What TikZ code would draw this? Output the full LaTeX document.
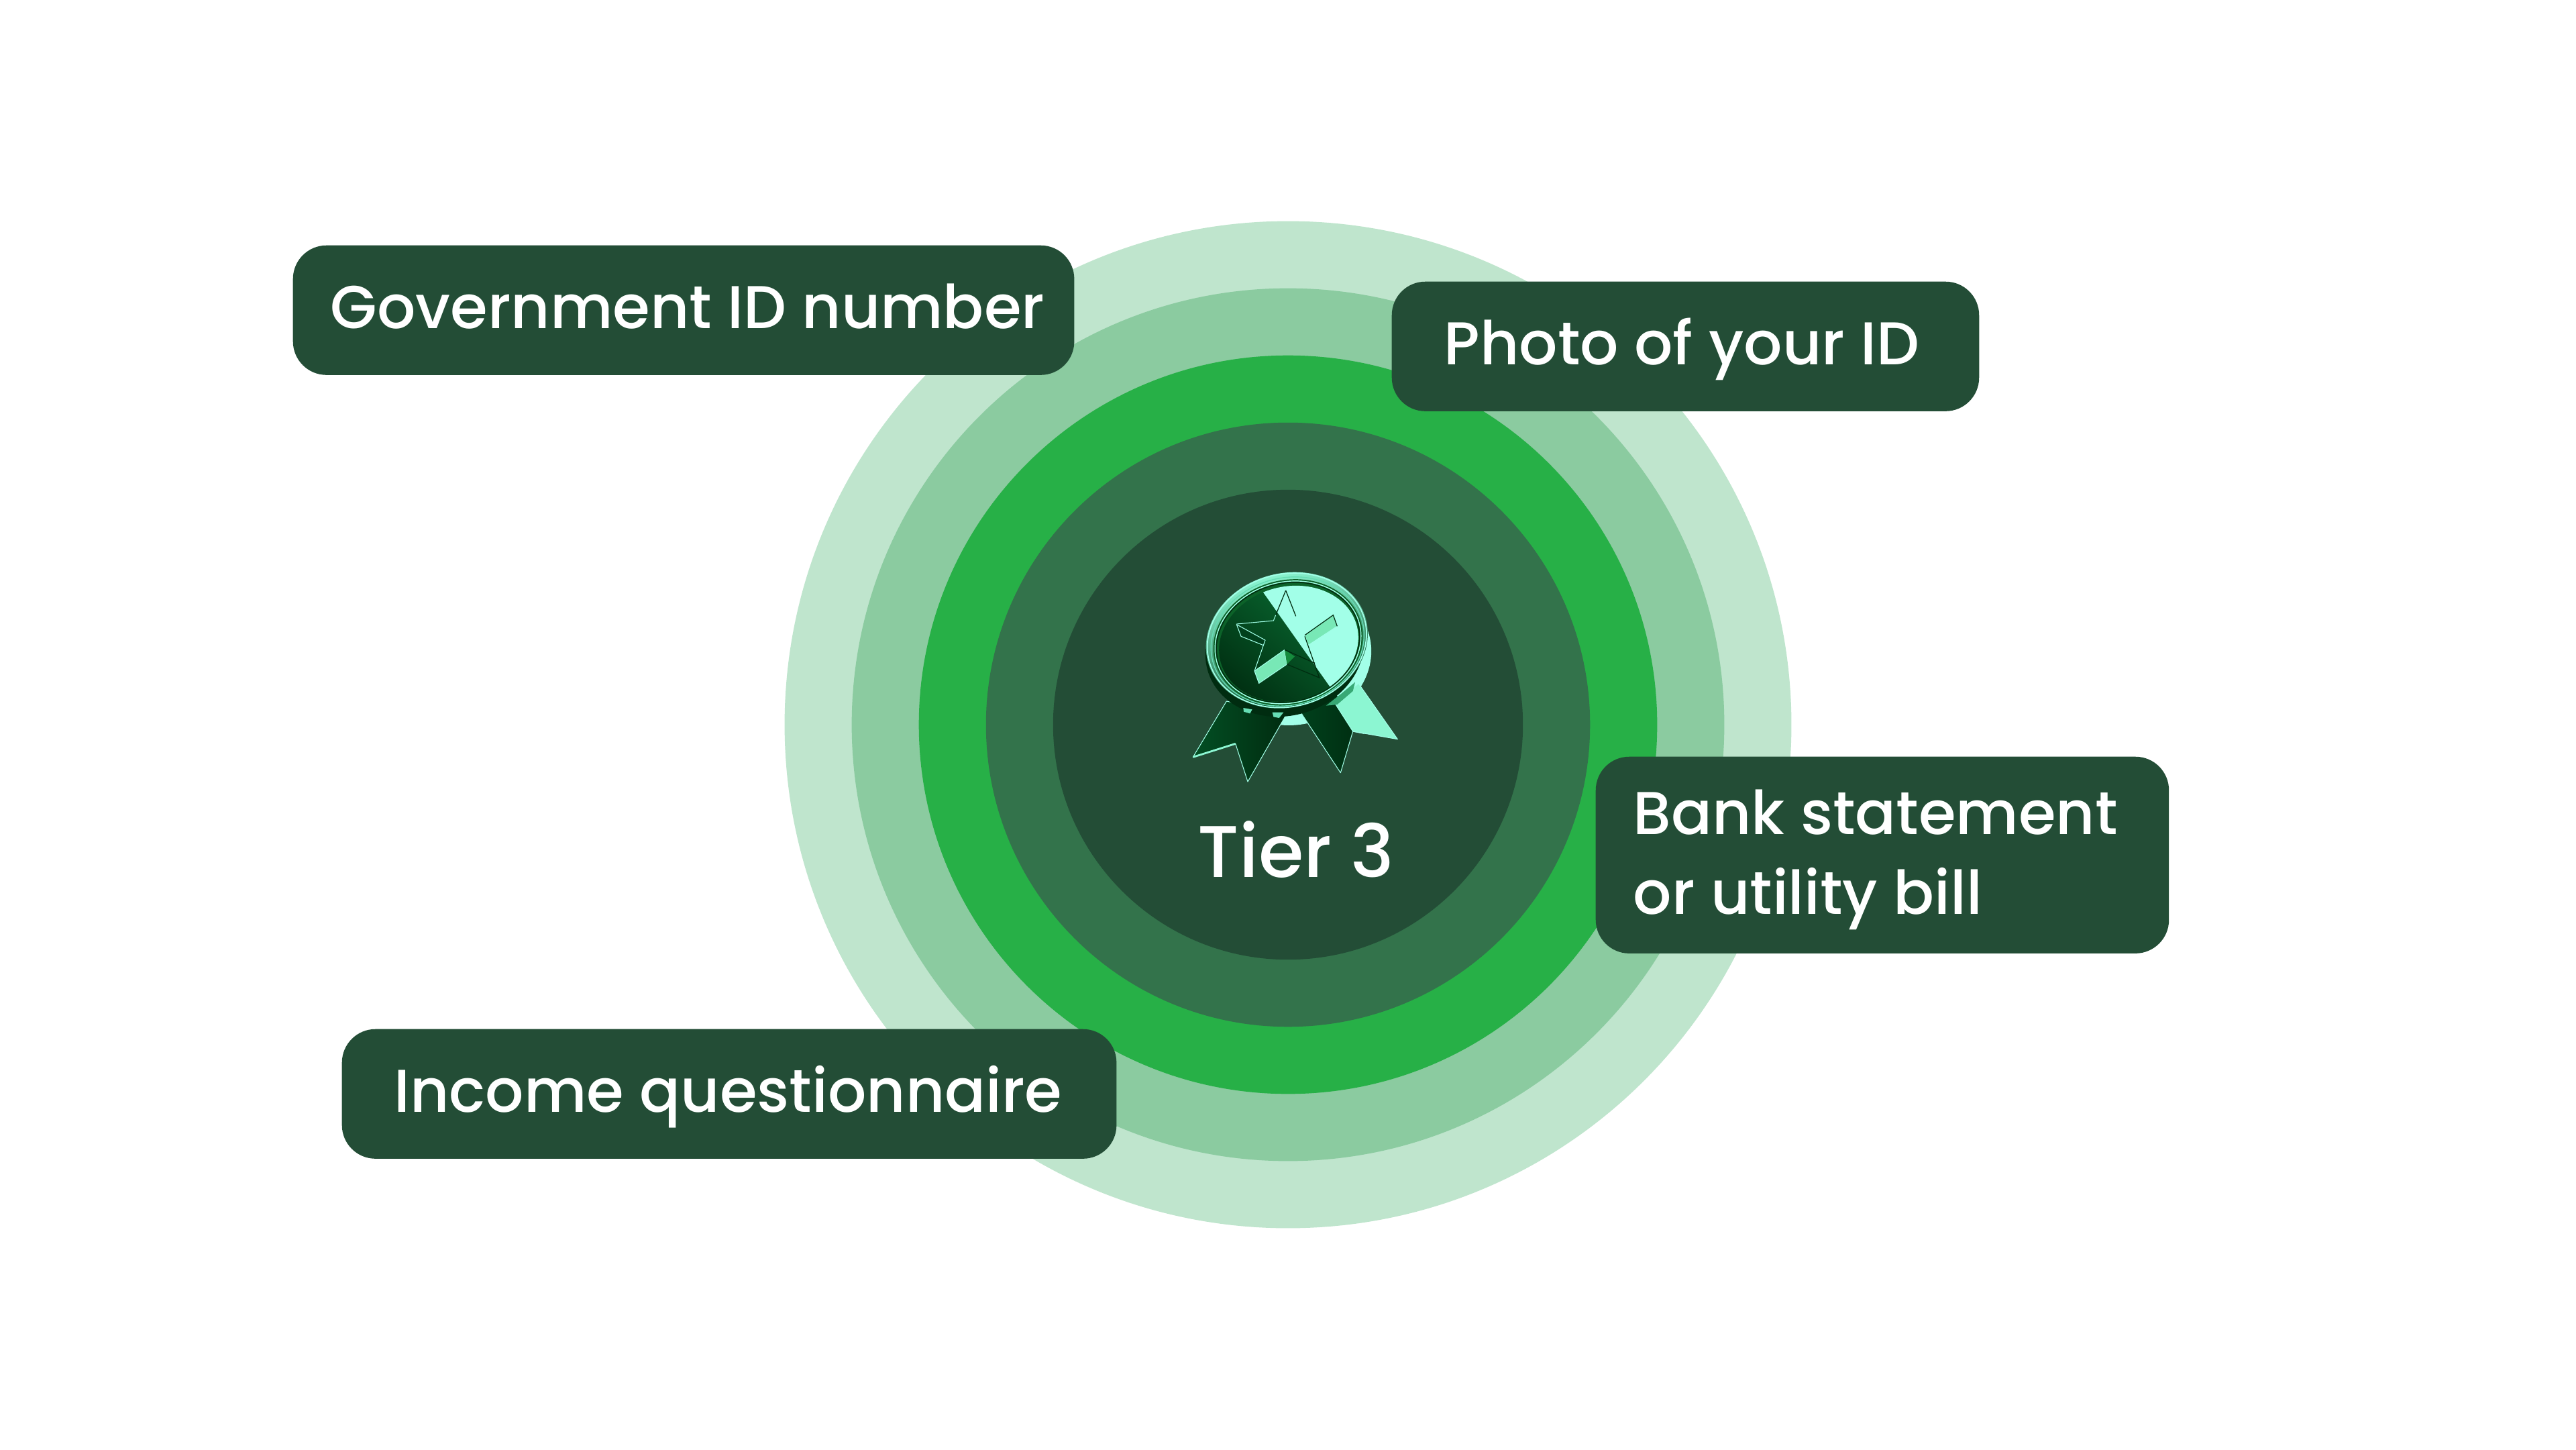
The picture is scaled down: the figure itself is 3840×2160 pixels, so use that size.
\documentclass[tikz,border=0pt]{standalone}
\usepackage{fontspec}
\setmainfont{Poppins Medium}
\usepackage{xcolor}
\usetikzlibrary{positioning,calc}
\definecolor{ringa}{HTML}{BFE5CD}
\definecolor{ringb}{HTML}{8BCBA0}
\definecolor{ringc}{HTML}{27B047}
\definecolor{ringd}{HTML}{33734B}
\definecolor{pillgreen}{HTML}{234D36}
\definecolor{medaldark}{HTML}{00401C}
\definecolor{medaldeep}{HTML}{002C10}
\definecolor{medalglow}{HTML}{0A7236}
\definecolor{medalmint}{HTML}{A2FFE8}
\definecolor{medalrim}{HTML}{66DDB4}
\definecolor{medalribbon}{HTML}{8CF6D2}
\tikzset{ring/.style={circle,inner sep=0pt,fill=#1},
    pill/.style={rectangle,rounded corners=.5cm,inner sep=0pt,fill=pillgreen,anchor=north west},
    pilltext/.style={inner sep=0pt,text=white,font=\fontsize{25.6}{34}\selectfont,align=left},
    pillline/.style={pilltext,text height=.78cm,text depth=.23cm},
    facet/.style={fill=#1,draw=medalmint,line width=.3pt,line join=round},
    crease/.style={draw=medaldeep,line width=.35pt}}
\begin{document}
\begin{tikzpicture}[x=.01cm,y=-.01cm]
    \useasboundingbox (0,0) rectangle (3840,2160);
    % rings
    \node[ring=ringa, minimum size=15cm] (ring1) at (1920,1080) {};
    \node[ring=ringb, minimum size=13cm] (ring2) at (1920,1080) {};
    \node[ring=ringc, minimum size=11cm] (ring3) at (1920,1080) {};
    \node[ring=ringd, minimum size=9cm] (ring4) at (1920,1080) {};
    \node[ring=pillgreen, minimum size=7cm] (ring5) at (1920,1080) {};

    % medal, in zoomed pixels
    \begin{scope}[shift={(1700,800)},x=.01cm/3,y=-.01cm/3]
        \fill[medalmint, rotate around={15:(685,530)}] (685,530) ellipse (350 and 310);
        % ribbons
        \path[left color=medaldark!70!medalglow, right color=medaldeep, draw=medalmint, line width=.3pt, line join=round]
            (385,735) -- (235,985) -- (425,925) -- (480,1095) -- (655,790) -- cycle;
        \draw[medalribbon, line width=.8pt] (235,985) -- (425,925);
        \path[left color=medaldark, right color=medaldeep, draw=medalmint, line width=.3pt, line join=round]
            (720,790) -- (895,1055) -- (950,870) -- (1000,880) -- (860,680) -- cycle;
        \path[facet=medalribbon] (870,745) -- (975,655) -- (1150,905) -- (950,870) -- cycle;
        % disc and rim
        \fill[medaldeep, rotate around={15:(645,500)}] (645,500) ellipse (358 and 300);
        \fill[medalrim] (460,765) -- (500,772) -- (490,790) -- (462,782) -- cycle;
        \fill[medalrim] (590,785) -- (640,785) -- (620,810) -- (595,805) -- cycle;
        \fill[medalglow!50!medalrim] (830,755) -- (900,700) -- (960,650) -- (950,690) -- (880,750) -- cycle;
        \path[top color=medalribbon, bottom color=medaldark, shading angle=15, rotate around={15:(655,463)}] (655,463) ellipse (366 and 300);
        \draw[medalmint, line width=.5pt, rotate around={15:(655,463)}] (655,463) ellipse (360 and 296);
        \fill[medaldark!70!ringc, rotate around={15:(660,472)}] (660,472) ellipse (338 and 278);
        \draw[medalrim, line width=.4pt, rotate around={15:(658,468)}] (658,468) ellipse (346 and 284);
        \draw[medalmint, line width=.4pt, rotate around={15:(660,472)}] (660,472) ellipse (330 and 270);
        \draw[medaldeep, line width=.4pt, rotate around={15:(660,472)}] (660,472) ellipse (324 and 264);
        \begin{scope}
            \clip[rotate around={15:(663,478)}] (663,478) ellipse (315 and 255);
            \path[top color=medalglow, bottom color=medaldeep, shading angle=-40] (300,150) rectangle (1000,800);
            \fill[medalmint] (515,200) -- (1100,200) -- (1100,800) -- (939,800) -- cycle;
        \end{scope}
        % star
        \draw[crease] (650,240) -- (605,350);
        \draw[medalmint, line width=.3pt] (605,350) -- (595,375) -- (430,390);
        \draw[crease] (650,240) -- (695,355);
        \path[facet=medalribbon!80!ringc] (735,440) -- (862,350) -- (880,400) -- (750,485) -- cycle;
        \draw[crease] (735,440) -- (862,350) -- (880,400);
        \path[facet=medaldark] (430,392) -- (558,462) -- (550,485) -- (450,445) -- cycle;
        \path[facet=medalribbon!80!ringc] (510,600) -- (645,505) -- (655,570) -- (530,655) -- cycle;
        \fill[medalglow!60!ringc] (645,505) -- (690,535) -- (655,570) -- cycle;
        \draw[crease] (645,505) -- (780,565);
        \draw[crease] (735,445) -- (800,630) -- (655,570);
        \draw[medalmint, line width=.3pt] (550,485) -- (510,600);
    \end{scope}

    \node[inner sep=0pt, text=white, font=\fontsize{31}{36}\selectfont] (tier) at (1932,1266) {Tier 3};

    % requirements
    \node[pill, minimum width=11.64cm, minimum height=1.93cm] (govpill) at (436,365) {};
    \node[pillline, right=.56cm of govpill.west] (govtext) {Government ID number};
    \node[pill, minimum width=8.75cm, minimum height=1.93cm] (photopill) at (2074,419) {};
    \node[pillline, right=.78cm of photopill.west] (phototext) {Photo of your ID};
    \node[pill, minimum width=8.54cm, minimum height=2.93cm] (bankpill) at (2378,1127) {};
    \node[pilltext, right=.56cm of bankpill.west, yshift=-.07cm] (banktext) {Bank statement\\or utility bill};
    \node[pill, minimum width=11.54cm, minimum height=1.93cm] (incomepill) at (509,1533) {};
    \node[pillline, right=.78cm of incomepill.west] (incometext) {Income questionnaire};
\end{tikzpicture}
\end{document}
